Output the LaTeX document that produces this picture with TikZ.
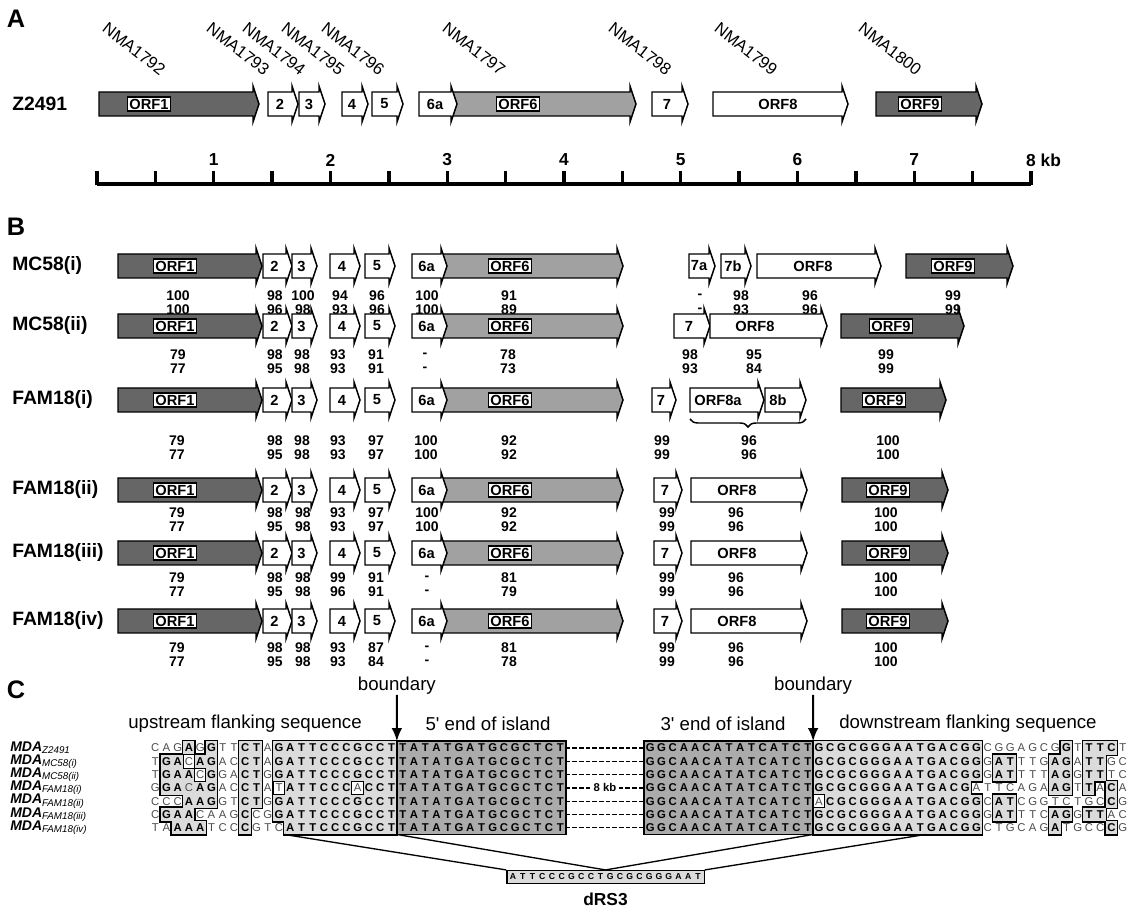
\documentclass[tikz,border=0pt]{standalone}
\usepackage{fontspec}
\setmainfont{Liberation Sans}
\usetikzlibrary{arrows.meta,decorations.pathreplacing}

\definecolor{orfdark}{gray}{0.40}
\definecolor{orfmid}{gray}{0.63}
\definecolor{seqlight}{gray}{0.86}
\definecolor{seqdark}{gray}{0.67}
\definecolor{seqfaint}{gray}{0.30}

\newcommand\sz[1]{\fontsize{#1}{#1}\selectfont}

% gene arrow: x start, x end, y, style
\newcommand\gene[4]{%
  \draw[#4] (#1,#3-12) -- (#2,#3-12) -- (#2,#3-18) -- (#2+6,#3)
    -- (#2,#3+18) -- (#2,#3+12) -- (#1,#3+12) -- cycle;}
% two identity values under a gene
\newcommand\pct[4]{%
  \node[pct] at (#1,#2) {#3};
  \node[pct] at (#1,#2+14) {#4};}
% ORF1 to ORF6 of one strain in panel B
\newcommand\leftset[1]{%
  \gene{118}{256}{#1}{darkgene}
  \node[orfbox] at (175,#1) {ORF1};
  \gene{263}{286}{#1}{whitegene}
  \node[orfname] at (274.5,#1) {2};
  \gene{292}{311}{#1}{whitegene}
  \node[orfname] at (301.5,#1) {3};
  \gene{330}{354}{#1}{whitegene}
  \node[orfname] at (342,#1) {4};
  \gene{365}{389}{#1}{whitegene}
  \node[orfname] at (377,#1) {5};
  \gene{441}{617}{#1}{midgene}
  \gene{412}{441}{#1}{whitegene}
  \node[orfname] at (426.5,#1) {6a};
  \node[orfbox] at (510,#1) {ORF6};}

% spaced sequence letters, lower case = outside a block
\newcommand\seqrun[1]{\seqstep#1\relax}
\def\seqstep#1{\ifx\relax#1\else\makebox[8.4375pt]{\seqchar{#1}}\expandafter\seqstep\fi}
\newcommand\seqchar[1]{\ifnum`#1>96 {\mdseries\color{seqfaint}\uppercase{#1}}\else{\bfseries #1}\fi}
\newcommand\drsrun[1]{\drsstep#1\relax}
\def\drsstep#1{\ifx\relax#1\else\makebox[7.3pt]{#1}\expandafter\drsstep\fi}

% shaded cells of the flanking blocks (row/columns)
\def\lightcells{%
  1/{4,6,9,10},1/{12,...,22},1/{60,...,74},1/{82,84,85,86},%
  2/{2,...,6},2/{9,10},2/{12,...,22},2/{60,...,74},2/{76,77,81,82,84,85},%
  3/{2,...,6},3/{9,10},3/{12,...,22},3/{60,...,74},3/{76,77,81,82,84,85},%
  4/{2,...,6},4/{9,10},4/{12,...,22},4/{60,...,73},4/{81,82,84,86},%
  5/{4,5,6,9,10},5/{12,...,22},5/{60,...,74},5/{76,77,86},%
  6/{2,3,4,9},6/{12,...,22},6/{60,...,74},6/{76,77,81,82,84,85},%
  7/{3,4,5,9},7/{13,...,22},7/{60,...,74},7/{81,86}}

\tikzset{
  gene/.style={draw,line width=1.1pt,line join=miter},
  darkgene/.style={gene,fill=orfdark},
  midgene/.style={gene,fill=orfmid},
  whitegene/.style={gene,fill=white},
  orfbox/.style={draw,fill=white,line width=1pt,inner sep=1.3pt,font=\bfseries\sz{11}},
  orfname/.style={inner sep=0pt,font=\bfseries\sz{11}},
  pct/.style={inner sep=0pt,font=\bfseries\sz{10.5}},
  strain/.style={anchor=west,inner sep=0pt,font=\bfseries\sz{14.5}},
  locus/.style={rotate=-38,inner sep=0pt,font=\sz{12.5}},
  panel/.style={inner sep=0pt,font=\bfseries\sz{19}},
  kblab/.style={inner sep=0pt,font=\bfseries\sz{13}},
  heading/.style={inner sep=0pt,font=\sz{14}},
  mdalab/.style={anchor=west,inner sep=0pt,font=\sz{10.5}},
  seqtext/.style={anchor=west,inner sep=0pt,font=\sz{8.5}},
  drsbox/.style={draw,fill=seqlight,line width=1pt,inner xsep=1pt,inner ysep=2.5pt,font=\bfseries\sz{6.5}}
}

\begin{document}
\begin{tikzpicture}[x=0.75pt,y=-0.75pt]
\useasboundingbox (0,0) rectangle (1133,912);

% ---------- A
\node[panel] (pA) at (16,19) {A};
\node[locus] (n1792) at (134,49) {NMA1792};
\node[locus] (n1793) at (238,49) {NMA1793};
\node[locus] (n1794) at (274,49) {NMA1794};
\node[locus] (n1795) at (313,49) {NMA1795};
\node[locus] (n1796) at (353,49) {NMA1796};
\node[locus] (n1797) at (474,49) {NMA1797};
\node[locus] (n1798) at (640,49) {NMA1798};
\node[locus] (n1799) at (746,49) {NMA1799};
\node[locus] (n1800) at (890,49) {NMA1800};

\node[strain] (z2491) at (12,104) {Z2491};
\gene{99}{253}{104}{darkgene}
\node[orfbox] (a1) at (149,104) {ORF1};
\gene{268}{292}{104}{whitegene}
\node[orfname] (a2) at (280,104) {2};
\gene{299}{319}{104}{whitegene}
\node[orfname] (a3) at (309,104) {3};
\gene{342}{362}{104}{whitegene}
\node[orfname] (a4) at (352,104) {4};
\gene{372}{397}{104}{whitegene}
\node[orfname] (a5) at (384.5,104) {5};
\gene{451}{630}{104}{midgene}
\gene{419}{451}{104}{whitegene}
\node[orfname] (a6a) at (435,104) {6a};
\node[orfbox] (a6) at (518,104) {ORF6};
\gene{652}{682}{104}{whitegene}
\node[orfname] (a7) at (667,104) {7};
\gene{713}{842}{104}{whitegene}
\node[orfname] (a8) at (778,104) {ORF8};
\gene{876}{976}{104}{darkgene}
\node[orfbox] (a9) at (920,104) {ORF9};

% kb scale
\draw[line width=3pt] (97,184) -- (1031,184);
\foreach \k in {0,...,16}
  \draw[line width=2.5pt] (97+58.375*\k,185.5) -- (97+58.375*\k,171);
\foreach \k in {1,...,7}
  \node[kblab] at (97+116.75*\k,160) {\k};
\node[kblab] (kb8) at (1031,160) {8\rlap{ kb}};

% ---------- B
\node[panel] (pB) at (16,227) {B};

\node[strain] (mc58i) at (12,266) {MC58(i)};
\leftset{266}
\gene{689}{709}{266}{whitegene}
\node[orfname] at (699,266) {7a};
\gene{721}{745}{266}{whitegene}
\node[orfname] at (733,266) {7b};
\gene{757}{875}{266}{whitegene}
\node[orfname] at (813,266) {ORF8};
\gene{906}{1007}{266}{darkgene}
\node[orfbox] at (953,266) {ORF9};
\pct{178}{296}{100}{100} \pct{275}{296}{98}{96} \pct{303}{296}{100}{98}
\pct{340}{296}{94}{93} \pct{377}{296}{96}{96} \pct{427}{296}{100}{100}
\pct{509}{296}{91}{89} \pct{700}{296}{-}{-} \pct{741}{296}{98}{93}
\pct{810}{296}{96}{96} \pct{953}{296}{99}{99}

\node[strain] (mc58ii) at (12,326) {MC58(ii)};
\leftset{326}
\gene{674}{704}{326}{whitegene}
\node[orfname] at (689,326) {7};
\gene{710}{821}{326}{whitegene}
\node[orfname] at (755,326) {ORF8};
\gene{841}{958}{326}{darkgene}
\node[orfbox] at (891,326) {ORF9};
\pct{178}{355}{79}{77} \pct{275}{355}{98}{95} \pct{302}{355}{98}{98}
\pct{338}{355}{93}{93} \pct{376}{355}{91}{91} \pct{425}{355}{-}{-}
\pct{508}{355}{78}{73} \pct{690}{355}{98}{93} \pct{754}{355}{95}{84}
\pct{886}{355}{99}{99}

\node[strain] (fam18i) at (12,400) {FAM18(i)};
\leftset{400}
\gene{652}{670}{400}{whitegene}
\node[orfname] at (661,400) {7};
\gene{690}{758}{400}{whitegene}
\node[orfname] at (718,400) {ORF8a};
\gene{765}{800}{400}{whitegene}
\node[orfname] at (778,400) {8b};
\draw[decorate,decoration={brace,mirror,amplitude=6pt},line width=1.1pt]
  (690,419) -- (806,419);
\gene{841}{940}{400}{darkgene}
\node[orfbox] at (884,400) {ORF9};
\pct{177}{441}{79}{77} \pct{275}{441}{98}{95} \pct{302}{441}{98}{98}
\pct{338}{441}{93}{93} \pct{376}{441}{97}{97} \pct{426}{441}{100}{100}
\pct{509}{441}{92}{92} \pct{662}{441}{99}{99} \pct{749}{441}{96}{96}
\pct{888}{441}{100}{100}

\node[strain] (fam18ii) at (12,490) {FAM18(ii)};
\leftset{490}
\gene{654}{676}{490}{whitegene}
\node[orfname] at (665,490) {7};
\gene{691}{801}{490}{whitegene}
\node[orfname] at (737,490) {ORF8};
\gene{842}{942}{490}{darkgene}
\node[orfbox] at (888,490) {ORF9};
\pct{177}{513}{79}{77} \pct{275}{513}{98}{95} \pct{303}{513}{98}{98}
\pct{338}{513}{93}{93} \pct{376}{513}{97}{97} \pct{427}{513}{100}{100}
\pct{509}{513}{92}{92} \pct{667}{513}{99}{99} \pct{736}{513}{96}{96}
\pct{886}{513}{100}{100}

\node[strain] (fam18iii) at (12,553) {FAM18(iii)};
\leftset{553}
\gene{654}{676}{553}{whitegene}
\node[orfname] at (665,553) {7};
\gene{691}{801}{553}{whitegene}
\node[orfname] at (737,553) {ORF8};
\gene{842}{942}{553}{darkgene}
\node[orfbox] at (888,553) {ORF9};
\pct{177}{578}{79}{77} \pct{275}{578}{98}{95} \pct{303}{578}{98}{98}
\pct{338}{578}{99}{96} \pct{376}{578}{91}{91} \pct{427}{578}{-}{-}
\pct{509}{578}{81}{79} \pct{667}{578}{99}{99} \pct{736}{578}{96}{96}
\pct{886}{578}{100}{100}

\node[strain] (fam18iv) at (12,621) {FAM18(iv)};
\leftset{621}
\gene{654}{676}{621}{whitegene}
\node[orfname] at (665,621) {7};
\gene{691}{801}{621}{whitegene}
\node[orfname] at (737,621) {ORF8};
\gene{842}{942}{621}{darkgene}
\node[orfbox] at (888,621) {ORF9};
\pct{177}{648}{79}{77} \pct{275}{648}{98}{95} \pct{303}{648}{98}{98}
\pct{338}{648}{93}{93} \pct{376}{648}{87}{84} \pct{427}{648}{-}{-}
\pct{509}{648}{81}{78} \pct{667}{648}{99}{99} \pct{736}{648}{96}{96}
\pct{886}{648}{100}{100}

% ---------- C
\node[panel] (pC) at (16,690) {C};
\node[heading] (bnd1) at (396.9,686) {boundary};
\node[heading] (bnd2) at (813.1,686) {boundary};
\node[heading] (upflank) at (245,724) {upstream flanking sequence};
\node[heading] (end5) at (488,724) {5\textquotesingle{} end of island};
\node[heading] (end3) at (723,724) {3\textquotesingle{} end of island};
\node[heading] (dnflank) at (968,724) {downstream flanking sequence};

\node[mdalab] (m1) at (10,748) {\textbf{\textit{MDA}}\textsubscript{\textit{Z2491}}};
\node[mdalab] (m2) at (10,761.3) {\textbf{\textit{MDA}}\textsubscript{\textit{MC58(i)}}};
\node[mdalab] (m3) at (10,774.6) {\textbf{\textit{MDA}}\textsubscript{\textit{MC58(ii)}}};
\node[mdalab] (m4) at (10,787.9) {\textbf{\textit{MDA}}\textsubscript{\textit{FAM18(i)}}};
\node[mdalab] (m5) at (10,801.2) {\textbf{\textit{MDA}}\textsubscript{\textit{FAM18(ii)}}};
\node[mdalab] (m6) at (10,814.5) {\textbf{\textit{MDA}}\textsubscript{\textit{FAM18(iii)}}};
\node[mdalab] (m7) at (10,827.8) {\textbf{\textit{MDA}}\textsubscript{\textit{FAM18(iv)}}};

\begin{scope}[shift={(149.375,741.35)},x=8.4375pt,y=-9.975pt]
  % flanking blocks: outlined cells, then refill to hide inner edges
  \foreach \r/\cl in \lightcells
    \foreach \c in \cl
      \draw[line width=2.2pt,fill=seqlight] (\c-1,\r-1) rectangle (\c,\r);
  \foreach \r/\cl in \lightcells
    \foreach \c in \cl
      \fill[seqlight] (\c-1,\r-1) rectangle (\c,\r);
  % island ends
  \draw[line width=1.4pt,fill=seqdark] (22,0) rectangle (37,7);
  \draw[line width=1.4pt,fill=seqdark] (44,0) rectangle (59,7);
  % mismatches inside blocks
  \draw[line width=0.6pt,fill=white] (3,1) rectangle (4,2);
  \draw[line width=0.6pt,fill=white] (4,2) rectangle (5,3);
  \draw[line width=0.6pt,fill=white] (11,3) rectangle (12,4);
  \draw[line width=0.6pt,fill=white] (18,3) rectangle (19,4);
  \draw[line width=0.6pt,fill=white] (59,4) rectangle (60,5);
  % gap between the island ends
  \foreach \r in {1,2,3,5,6,7}
    \draw[line width=1pt,dash pattern=on 3.5pt off 1.5pt] (37,\r-0.5) -- (44,\r-0.5);
  \node[inner sep=1.5pt,font=\bfseries\sz{8.5}] (gap) at (40.5,3.5) {8 kb};
  \draw[line width=1pt,dash pattern=on 3.5pt off 1.5pt] (37,3.5) -- (gap.west);
  \draw[line width=1pt,dash pattern=on 3.5pt off 1.5pt] (gap.east) -- (44,3.5);
  % letters
  \node[seqtext] (s1a) at (0,0.5) {\seqrun{cagAgGttCTaGATTCCCGCCTTATATGATGCGCTCT}};
  \node[seqtext] (s1b) at (44,0.5) {\seqrun{GGCAACATATCATCTGCGCGGGAATGACGGcggagcgGtTTCt}};
  \node[seqtext] (s2a) at (0,1.5) {\seqrun{tGAcAGacCTaGATTCCCGCCTTATATGATGCGCTCT}};
  \node[seqtext] (s2b) at (44,1.5) {\seqrun{GGCAACATATCATCTGCGCGGGAATGACGGgATttgAGaTTgc}};
  \node[seqtext] (s3a) at (0,2.5) {\seqrun{tGAAcGgaCTgGATTCCCGCCTTATATGATGCGCTCT}};
  \node[seqtext] (s3b) at (44,2.5) {\seqrun{GGCAACATATCATCTGCGCGGGAATGACGGgATtttAGgTTtc}};
  \node[seqtext] (s4a) at (0,3.5) {\seqrun{gGAcAGacCTatATTCCCaCCTTATATGATGCGCTCT}};
  \node[seqtext] (s4b) at (44,3.5) {\seqrun{GGCAACATATCATCTGCGCGGGAATGACGattcagaAGtTaCa}};
  \node[seqtext] (s5a) at (0,4.5) {\seqrun{cccAAGgtCTgGATTCCCGCCTTATATGATGCGCTCT}};
  \node[seqtext] (s5b) at (44,4.5) {\seqrun{GGCAACATATCATCTaCGCGGGAATGACGGcATcggtctgcCg}};
  \node[seqtext] (s6a) at (0,5.5) {\seqrun{cGAAcaagCcgGATTCCCGCCTTATATGATGCGCTCT}};
  \node[seqtext] (s6b) at (44,5.5) {\seqrun{GGCAACATATCATCTGCGCGGGAATGACGGgATttcAGgTTac}};
  \node[seqtext] (s7a) at (0,6.5) {\seqrun{taAAAtccCgtcATTCCCGCCTTATATGATGCGCTCT}};
  \node[seqtext] (s7b) at (44,6.5) {\seqrun{GGCAACATATCATCTGCGCGGGAATGACGGctgcagAtgccCg}};
  % end points
  \coordinate (b1tip) at (22,0);
  \coordinate (b2tip) at (59,0);
  \coordinate (upL) at (12,7);
  \coordinate (upR) at (22,7);
  \coordinate (dnL) at (59,7);
  \coordinate (dnR) at (69,7);
\end{scope}

\draw[-{Latex[length=10pt,width=8pt]},line width=1.6pt] (bnd1) -- (b1tip);
\draw[-{Latex[length=10pt,width=8pt]},line width=1.6pt] (bnd2) -- (b2tip);

\node[drsbox] (drs) at (605.5,877) {\drsrun{ATTCCCGCCTGCGCGGGAAT}};
\node[inner sep=0pt,font=\bfseries\sz{13}] (drslab) at (605.5,899) {dRS3};
\draw[line width=1pt] (upL) -- (drs.north west);
\draw[line width=1pt] (upR) -- (drs.north);
\draw[line width=1pt] (dnL) -- (drs.north);
\draw[line width=1pt] (dnR) -- (drs.north east);
\end{tikzpicture}
\end{document}
